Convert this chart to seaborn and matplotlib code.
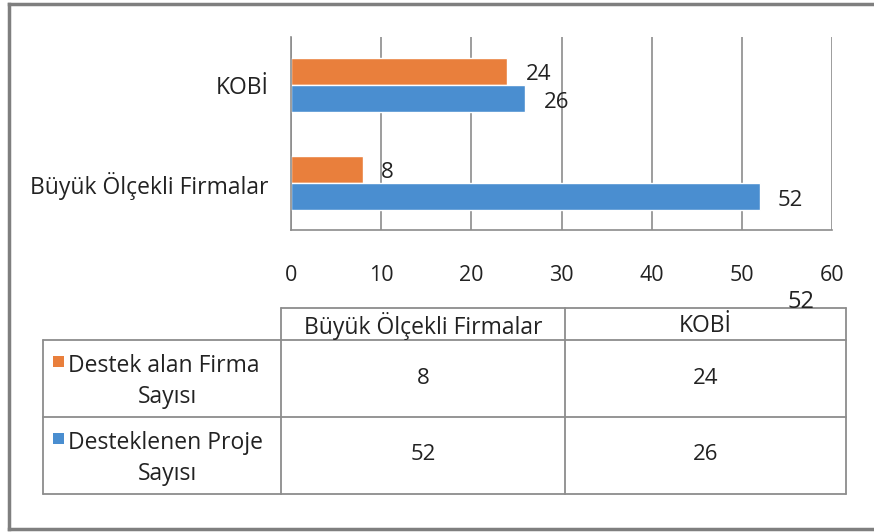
import matplotlib
matplotlib.use("Agg")
import matplotlib.pyplot as plt
import seaborn as sns
import pandas as pd
from matplotlib.patches import Rectangle

categories = ["KOBİ", "Büyük Ölçekli Firmalar"]
series_names = ["Destek alan Firma Sayısı", "Desteklenen Proje Sayısı"]
destek_firma = [24, 8]
proje = [26, 52]
table_cols = ["Büyük Ölçekli Firmalar", "KOBİ"]
table_rows = [["Destek alan Firma", "Sayısı"], ["Desteklenen Proje", "Sayısı"]]
table_vals = [["8", "24"], ["52", "26"]]
xticks = [0, 10, 20, 30, 40, 50, 60]
colors = ["#E97F3C", "#4A8ED0"]

sns.set_theme(style="white")
plt.rcParams['font.family'] = ['Open Sans', 'DejaVu Sans']

df = pd.DataFrame({
    "cat": categories * 2,
    "series": [series_names[0]] * 2 + [series_names[1]] * 2,
    "val": destek_firma + proje,
})

W, H = 874, 532
fig = plt.figure(figsize=(W / 100, H / 100), dpi=100)
fig.patch.set_facecolor("white")

txt = "#222222"
# main bar axes: x 291..832, y 37..230 (pixels from top)
ax = fig.add_axes([291 / W, 1 - 230 / H, (832 - 291) / W, (230 - 37) / H])
sns.barplot(data=df, y="cat", x="val", hue="series", order=categories,
            hue_order=series_names, palette=colors, orient="h", width=0.56,
            ax=ax, legend=False, saturation=1)
ax.set_xlim(0, 60)
ax.set_ylim(1.48, -0.49)
ax.set_xticks(xticks)
ax.set_xticklabels([str(t) for t in xticks], fontsize=15.5, color=txt)
ax.tick_params(axis="x", pad=25, length=0)
ax.tick_params(axis="y", length=0, pad=16, labelsize=16.5, labelcolor=txt)
ax.set_xlabel("")
ax.set_ylabel("")
ax.grid(axis="x", color="#8c8c8c", lw=1.2)
ax.set_axisbelow(True)
for s in ["top", "right"]:
    ax.spines[s].set_visible(False)
for s in ["left", "bottom"]:
    ax.spines[s].set_color("#8c8c8c")
    ax.spines[s].set_linewidth(1.2)
for cont in ax.containers:
    anns = ax.bar_label(cont, padding=13, fontsize=16, color=txt)
    for a in anns:
        a.xyann = (13, -2.5)

# overlay axes for table and frame, pixel coordinates
ov = fig.add_axes([0, 0, 1, 1], facecolor="none")
ov.set_xlim(0, W)
ov.set_ylim(H, 0)
ov.axis("off")

fc = "#7f7f7f"
ov.plot([8.5, 8.5], [4, 529], color=fc, lw=2.5, solid_capstyle="projecting")
ov.plot([8.5, W + 5], [4, 4], color=fc, lw=2.5, solid_capstyle="projecting")
ov.plot([8.5, W + 5], [529, 529], color=fc, lw=2.5, solid_capstyle="projecting")

lc = "#8c8c8c"
xl, xh, xm, xr = 43, 281, 565, 846
y0, y1, y2, y3 = 308, 340, 417, 494
kw = dict(color=lc, lw=1.3)
ov.plot([xh, xr], [y0, y0], **kw)
ov.plot([xl, xr], [y1, y1], **kw)
ov.plot([xl, xr], [y2, y2], **kw)
ov.plot([xl, xr], [y3, y3], **kw)
ov.plot([xh, xh], [y0, y3], **kw)
ov.plot([xm, xm], [y0, y3], **kw)
ov.plot([xr, xr], [y0, y3], **kw)
ov.plot([xl, xl], [y1, y3], **kw)

fs = 16.5
ov.text((xh + xm) / 2, 326, table_cols[0], ha="center", va="center", fontsize=fs, color=txt)
ov.text((xm + xr) / 2, 326, table_cols[1], ha="center", va="center", fontsize=fs, color=txt)
row_tops = [y1, y2]
for i, (lines, vals) in enumerate(zip(table_rows, table_vals)):
    top = row_tops[i]
    ov.add_patch(Rectangle((53, top + 16), 11, 11, color=colors[i], lw=0))
    ov.text(68, top + 26, lines[0], ha="left", va="center", fontsize=fs, color=txt)
    ov.text(167, top + 57, lines[1], ha="center", va="center", fontsize=fs, color=txt)
    ov.text((xh + xm) / 2, top + 38, vals[0], ha="center", va="center", fontsize=16, color=txt)
    ov.text((xm + xr) / 2, top + 38, vals[1], ha="center", va="center", fontsize=16, color=txt)

ov.text(801, 302, "52", ha="center", va="center", fontsize=17, color=txt)

fig.savefig("out.png", dpi=100, facecolor="white")
